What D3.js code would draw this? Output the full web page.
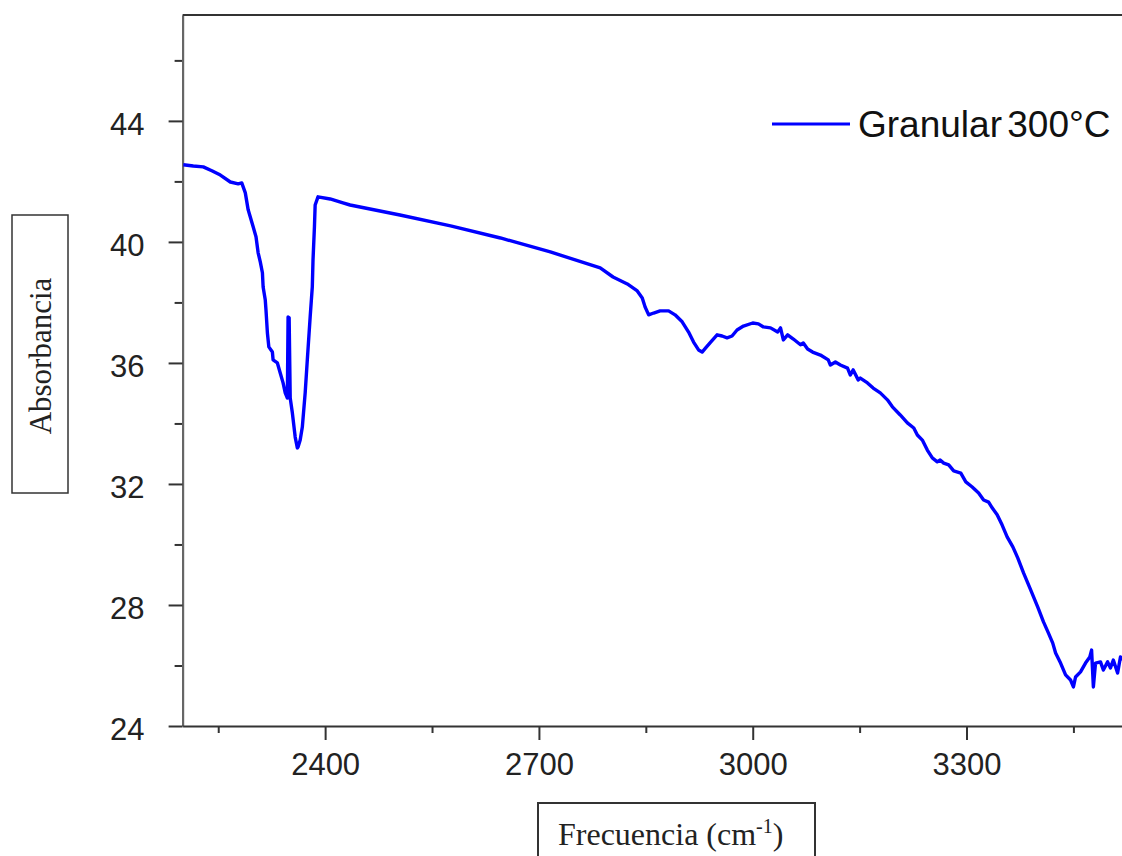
<!DOCTYPE html>
<html>
<head>
<meta charset="utf-8">
<script src="https://cdn.jsdelivr.net/npm/d3@7"></script>
<style>
  body { margin: 0; background: #fff; }
  svg { display: block; }
</style>
</head>
<body>
<div id="chart"></div>
<script>
'use strict'

// spectrum: wavenumber (cm-1) and absorbance
const wavenumber = [2201, 2215, 2229, 2241, 2253, 2267, 2278, 2283, 2288, 2292, 2299, 2303, 2306, 2309, 2312, 2313,
    2316, 2317, 2319, 2321, 2326, 2327, 2333, 2337, 2341, 2344, 2347, 2348, 2349.5, 2351, 2354, 2358, 2361, 2362,
    2365, 2368, 2372, 2375, 2379, 2382, 2383, 2385, 2386, 2390, 2407, 2425, 2435, 2505, 2576, 2646, 2716, 2786,
    2804, 2824, 2838, 2845, 2849, 2854, 2861, 2870, 2882, 2891, 2901, 2910, 2917, 2924, 2929, 2934, 2941, 2950,
    2957, 2964, 2971, 2978, 2987, 3000, 3008, 3015, 3025, 3035, 3039, 3043, 3049, 3057, 3067, 3071, 3077, 3084,
    3095, 3106, 3109, 3116, 3123, 3133, 3137, 3141, 3148, 3151, 3161, 3169, 3179, 3189, 3196, 3207, 3217, 3226,
    3231, 3238, 3245, 3252, 3259, 3263, 3268, 3275, 3282, 3292, 3299, 3308, 3317, 3324, 3331, 3336, 3343, 3350,
    3357, 3365, 3372, 3380, 3390, 3400, 3408, 3415, 3421, 3425, 3432, 3439, 3446, 3450, 3453, 3460, 3467, 3473,
    3475.5, 3478, 3481, 3488, 3492, 3498, 3502, 3506, 3512, 3516, 3519]
const absorbance = [42.55, 42.51, 42.48, 42.35, 42.21, 41.98, 41.92, 41.95, 41.62, 41.06, 40.50, 40.17, 39.64, 39.34, 38.98, 38.51,
    38.08, 37.75, 36.99, 36.53, 36.36, 36.10, 36.00, 35.67, 35.34, 35.01, 34.84, 37.52, 37.49, 34.84, 34.35, 33.55, 33.19, 33.22,
    33.45, 33.88, 35.01, 36.10, 37.52, 38.51, 39.40, 40.50, 41.22, 41.49, 41.42, 41.29, 41.22, 40.89, 40.53, 40.13, 39.67, 39.14,
    38.84, 38.61, 38.38, 38.15, 37.85, 37.59, 37.65, 37.72, 37.72, 37.59, 37.36, 37.02, 36.69, 36.43, 36.36, 36.50, 36.69, 36.93,
    36.89, 36.83, 36.89, 37.09, 37.22, 37.32, 37.29, 37.19, 37.16, 37.02, 37.16, 36.76, 36.93, 36.79, 36.60, 36.66, 36.46, 36.36,
    36.26, 36.10, 35.93, 36.03, 35.93, 35.83, 35.60, 35.77, 35.44, 35.50, 35.34, 35.17, 35.01, 34.78, 34.55, 34.28, 34.02, 33.85,
    33.62, 33.45, 33.12, 32.86, 32.73, 32.79, 32.69, 32.63, 32.43, 32.36, 32.07, 31.90, 31.70, 31.47, 31.40, 31.21, 30.98, 30.64,
    30.25, 29.92, 29.55, 29.06, 28.50, 27.93, 27.44, 27.07, 26.74, 26.41, 26.08, 25.69, 25.52, 25.29, 25.62, 25.79, 26.08, 26.28,
    26.51, 25.29, 26.08, 26.12, 25.85, 26.12, 25.92, 26.18, 25.75, 26.28, 26.18]

const xTicks = [2400, 2700, 3000, 3300]
const xMinorTicks = [2250, 2550, 2850, 3150, 3450]
const yTicks = [24, 28, 32, 36, 40, 44]
const yMinorTicks = [26, 30, 34, 38, 42, 46]
const seriesName = 'Granular 300°C'
const yTitle = 'Absorbancia'

////////////////////////////////////
//////////// svg setup /////////////
////////////////////////////////////

const svgWidth = 1122
const svgHeight = 856

const svg = d3.select('#chart').append('svg')
    .attr('width', svgWidth)
    .attr('height', svgHeight)

const tickFont = '"Liberation Sans", Arial, sans-serif'
const titleFont = '"Liberation Serif", "Times New Roman", serif'

////////////////////////////////////
//////////////scales////////////////
////////////////////////////////////

const x = d3.scaleLinear()
    .domain([2200, 3520])
    .range([182.6, 1123.3])

const y = d3.scaleLinear()
    .domain([24, 47.5])
    .range([726, 15])

////////////////////////////////////
////////////// axes ////////////////
////////////////////////////////////

// minor ticks first, no labels
svg.append('g')
    .attr('transform', `translate(${x(2200)},0)`)
    .call(d3.axisLeft(y).tickValues(yMinorTicks).tickSize(8).tickSizeOuter(0).tickFormat(''))
    .call(g => g.select('.domain').remove())

svg.append('g')
    .attr('transform', `translate(0,${y(24)})`)
    .call(d3.axisBottom(x).tickValues(xMinorTicks).tickSize(7).tickSizeOuter(0).tickFormat(''))
    .call(g => g.select('.domain').remove())

const yAxis = svg.append('g')
    .attr('transform', `translate(${x(2200)},0)`)
    .call(d3.axisLeft(y).tickValues(yTicks).tickSize(14).tickSizeOuter(0).tickPadding(24).tickFormat(d3.format('d')))

yAxis.select('.domain').attr('stroke', '#666').attr('stroke-width', 2.2)
yAxis.selectAll('text')
    .attr('dy', '0.45em')
    .style('font-family', tickFont)
    .style('font-size', '31px')
    .attr('fill', '#222')

const xAxis = svg.append('g')
    .attr('transform', `translate(0,${y(24)})`)
    .call(d3.axisBottom(x).tickValues(xTicks).tickSize(14).tickSizeOuter(0).tickPadding(13).tickFormat(d3.format('d')))

xAxis.select('.domain').attr('stroke', '#333').attr('stroke-width', 2)
xAxis.selectAll('text')
    .style('font-family', tickFont)
    .style('font-size', '31px')
    .attr('fill', '#222')

svg.selectAll('.tick line').attr('stroke', '#333').attr('stroke-width', 2)

// top frame line
svg.append('line')
    .attr('x1', x(2200)).attr('x2', x(3520))
    .attr('y1', y(47.5)).attr('y2', y(47.5))
    .attr('stroke', '#333')
    .attr('stroke-width', 2)

////////////////////////////////////
////////////// series //////////////
////////////////////////////////////

const points = wavenumber.map((w, i) => [w, absorbance[i]])

svg.append('path')
    .datum(points)
    .attr('fill', 'none')
    .attr('stroke', '#0000ff')
    .attr('stroke-width', 3.4)
    .attr('stroke-linejoin', 'round')
    .attr('d', d3.line().x(d => x(d[0])).y(d => y(d[1])))

// legend
const legend = svg.append('g').attr('transform', 'translate(772,124)')
legend.append('line')
    .attr('x1', 0).attr('x2', 78)
    .attr('stroke', '#0000ff')
    .attr('stroke-width', 3)
legend.append('text')
    .attr('x', 86)
    .attr('y', 13)
    .style('font-family', tickFont)
    .style('font-size', '37px')
    .style('word-spacing', '-5px')
    .attr('fill', '#111')
    .text(seriesName)

////////////////////////////////////
////////////// titles //////////////
////////////////////////////////////

svg.append('rect')
    .attr('x', 12).attr('y', 215)
    .attr('width', 56).attr('height', 278)
    .attr('fill', 'none')
    .attr('stroke', '#333')
    .attr('stroke-width', 1.5)

svg.append('text')
    .attr('transform', 'translate(51,356) rotate(-90)')
    .attr('text-anchor', 'middle')
    .style('font-family', titleFont)
    .style('font-size', '31px')
    .attr('fill', '#222')
    .text(yTitle)

svg.append('rect')
    .attr('x', 538).attr('y', 803)
    .attr('width', 277).attr('height', 80)
    .attr('fill', 'none')
    .attr('stroke', '#333')
    .attr('stroke-width', 2)

const xt = svg.append('text')
    .attr('x', 558)
    .attr('y', 845)
    .style('font-family', titleFont)
    .style('font-size', '32px')
    .attr('fill', '#222')
xt.append('tspan').text('Frecuencia (cm')
xt.append('tspan').attr('dy', -12).style('font-size', '20px').text('-1')
xt.append('tspan').attr('dy', 12).text(')')
</script>
</body>
</html>
